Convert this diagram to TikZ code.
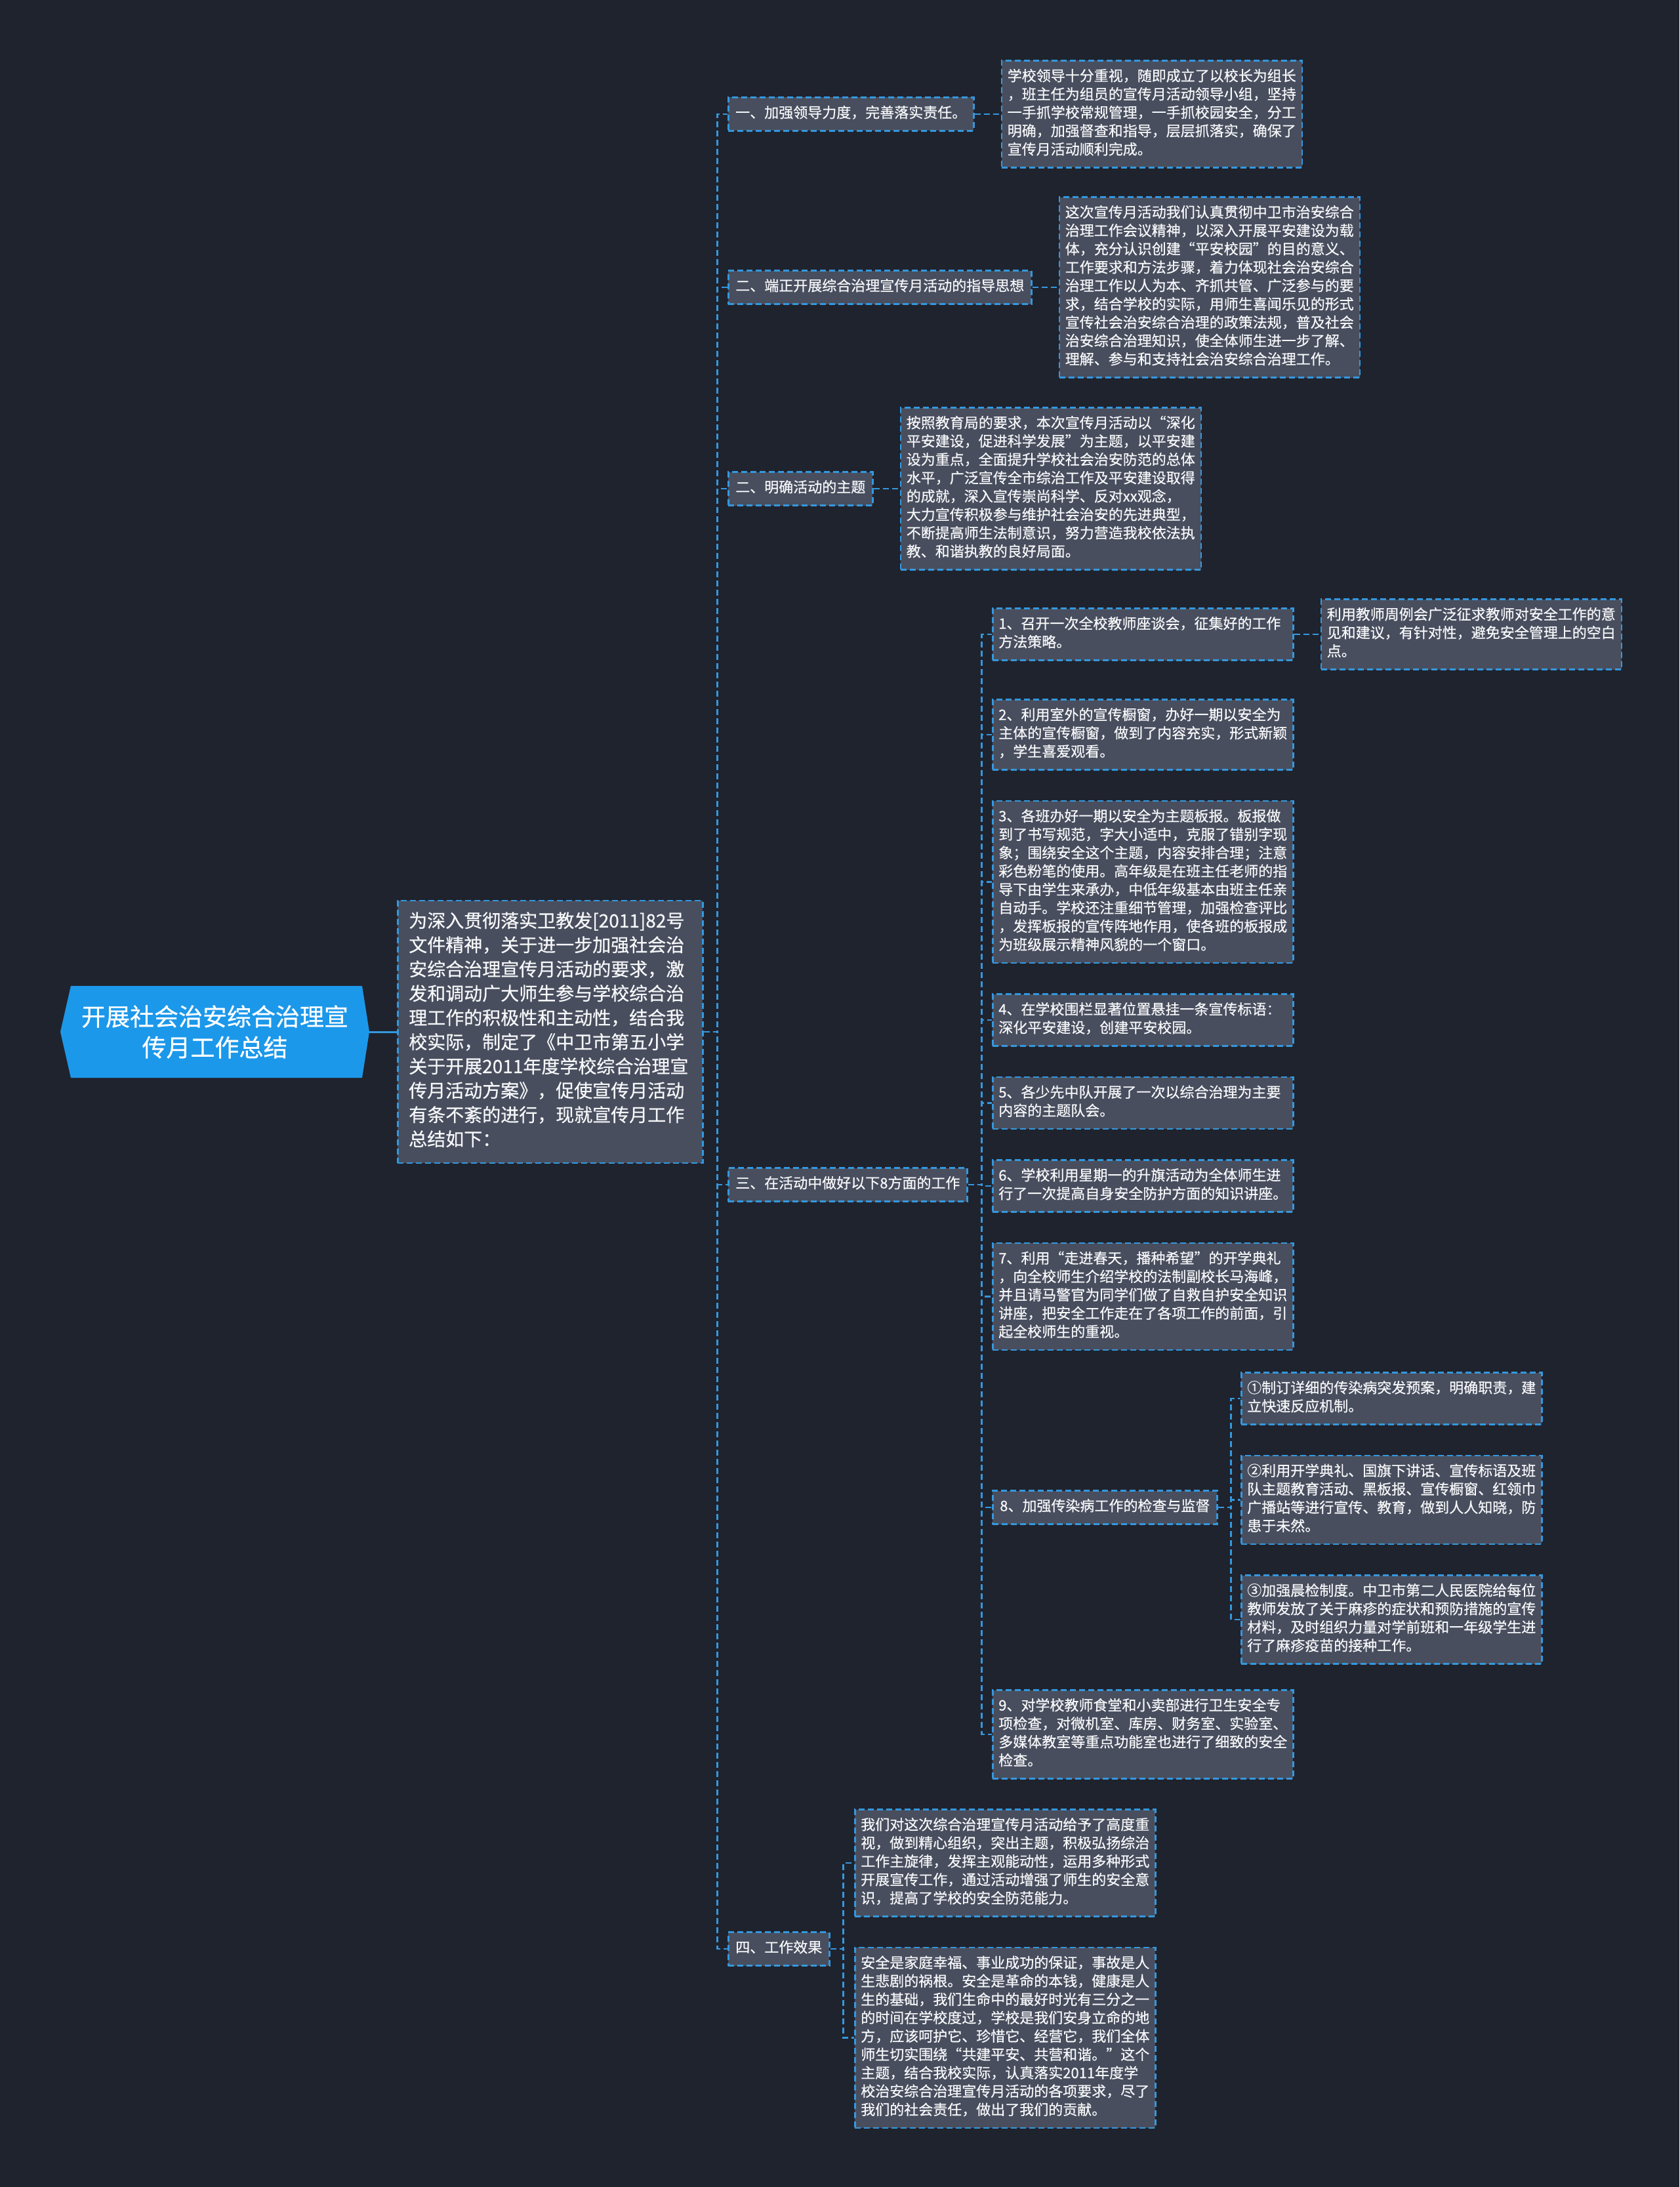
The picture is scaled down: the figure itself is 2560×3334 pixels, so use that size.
\documentclass[tikz,border=0pt]{standalone}
\usepackage{fontspec}
\setmainfont{Noto Sans CJK SC}[FakeBold=0.6]
\usepackage{xcolor}
\usepackage{tikz}
\usetikzlibrary{positioning, calc}
\definecolor{BgColor}{RGB}{31,35,46}
\definecolor{BoxColor}{RGB}{72,78,94}
\definecolor{LineColor}{RGB}{52,152,222}
\definecolor{RootColor}{RGB}{28,152,234}
\definecolor{TextColor}{RGB}{246,247,249}
\tikzset{
    box/.style={
        rectangle,
        draw=LineColor,
        line width=2.5pt,
        dash pattern=on 9pt off 5pt,
        fill=BoxColor,
        text=TextColor,
        inner xsep=11pt,
        inner ysep=11.5pt,
        font=\fontsize{22}{28}\selectfont,
        execute at begin node=\strut,
        execute at end node=\strut
    },
    branch/.style={box, anchor=west},
    leaf/.style={box, inner xsep=9pt, text width=440pt, align=left},
    intro/.style={box, inner xsep=17pt, inner ysep=15pt, text width=431pt, align=left, font=\fontsize{28}{37}\selectfont},
    topic/.style={text=white, align=center, inner sep=0pt, minimum width=471pt, font=\fontsize{37}{47}\selectfont},
    link/.style={draw=LineColor, line width=2.5pt, dash pattern=on 9pt off 5pt},
    rootlink/.style={draw=LineColor, line width=3pt}
}

\begin{document}
\begin{tikzpicture}[x=1pt, y=-1pt, node distance=45pt]

% Background
\fill[BgColor] (0,0) rectangle (2560,3334);
\useasboundingbox (0,0) rectangle (2560,3334);

% Root
\fill[RootColor] (92,1573) -- (108,1503) -- (552,1503) -- (563,1573) -- (552,1643) -- (108,1643) -- cycle
    (327.5,1573) node[topic] (n_root) {开展社会治安综合治理宣\\传月工作总结};

\node[intro, anchor=west] (n_intro) at (605,1573) {为深入贯彻落实卫教发[2011]82号\\文件精神，关于进一步加强社会治\\安综合治理宣传月活动的要求，激\\发和调动广大师生参与学校综合治\\理工作的积极性和主动性，结合我\\校实际，制定了《中卫市第五小学\\关于开展2011年度学校综合治理宣\\传月活动方案》，促使宣传月活动\\有条不紊的进行，现就宣传月工作\\总结如下：};

% Column 1
\node[branch] (n_lead) at (1109,174) {一、加强领导力度，完善落实责任。};
\node[leaf, right=40pt of n_lead] (n_lead_note) {学校领导十分重视，随即成立了以校长为组长\\，班主任为组员的宣传月活动领导小组，坚持\\一手抓学校常规管理，一手抓校园安全，分工\\明确，加强督查和指导，层层抓落实，确保了\\宣传月活动顺利完成。};

\node[branch] (n_idea) at (1109,438) {二、端正开展综合治理宣传月活动的指导思想};
\node[leaf, right=40pt of n_idea] (n_idea_note) {这次宣传月活动我们认真贯彻中卫市治安综合\\治理工作会议精神，以深入开展平安建设为载\\体，充分认识创建“平安校园”的目的意义、\\工作要求和方法步骤，着力体现社会治安综合\\治理工作以人为本、齐抓共管、广泛参与的要\\求，结合学校的实际，用师生喜闻乐见的形式\\宣传社会治安综合治理的政策法规，普及社会\\治安综合治理知识，使全体师生进一步了解、\\理解、参与和支持社会治安综合治理工作。};

\node[branch] (n_theme) at (1109,745) {二、明确活动的主题};
\node[leaf, right=40pt of n_theme] (n_theme_note) {按照教育局的要求，本次宣传月活动以“深化\\平安建设，促进科学发展”为主题，以平安建\\设为重点，全面提升学校社会治安防范的总体\\水平，广泛宣传全市综治工作及平安建设取得\\的成就，深入宣传崇尚科学、反对xx观念，\\大力宣传积极参与维护社会治安的先进典型，\\不断提高师生法制意识，努力营造我校依法执\\教、和谐执教的良好局面。};

\node[branch] (n_work) at (1109,1806) {三、在活动中做好以下8方面的工作};
\node[branch] (n_result) at (1109,2971) {四、工作效果};

% Column 2
\node[leaf, anchor=west] (n_w1) at (1512,967) {1、召开一次全校教师座谈会，征集好的工作\\方法策略。};
\node[leaf, right=40pt of n_w1] (n_w1_note) {利用教师周例会广泛征求教师对安全工作的意\\见和建议，有针对性，避免安全管理上的空白\\点。};
\node[leaf, anchor=west] (n_w2) at (1512,1120) {2、利用室外的宣传橱窗，办好一期以安全为\\主体的宣传橱窗，做到了内容充实，形式新颖\\，学生喜爱观看。};
\node[leaf, below=of n_w2] (n_w3) {3、各班办好一期以安全为主题板报。板报做\\到了书写规范，字大小适中，克服了错别字现\\象；围绕安全这个主题，内容安排合理；注意\\彩色粉笔的使用。高年级是在班主任老师的指\\导下由学生来承办，中低年级基本由班主任亲\\自动手。学校还注重细节管理，加强检查评比\\，发挥板报的宣传阵地作用，使各班的板报成\\为班级展示精神风貌的一个窗口。};
\node[leaf, below=of n_w3] (n_w4) {4、在学校围栏显著位置悬挂一条宣传标语：\\深化平安建设，创建平安校园。};
\node[leaf, below=of n_w4] (n_w5) {5、各少先中队开展了一次以综合治理为主要\\内容的主题队会。};
\node[leaf, below=of n_w5] (n_w6) {6、学校利用星期一的升旗活动为全体师生进\\行了一次提高自身安全防护方面的知识讲座。};
\node[leaf, below=of n_w6] (n_w7) {7、利用“走进春天，播种希望”的开学典礼\\，向全校师生介绍学校的法制副校长马海峰，\\并且请马警官为同学们做了自救自护安全知识\\讲座，把安全工作走在了各项工作的前面，引\\起全校师生的重视。};
\node[branch] (n_w8) at (1512,2298) {8、加强传染病工作的检查与监督};
\node[leaf, anchor=west] (n_w8_a) at (1891,2132) {①制订详细的传染病突发预案，明确职责，建\\立快速反应机制。};
\node[leaf, below=of n_w8_a] (n_w8_b) {②利用开学典礼、国旗下讲话、宣传标语及班\\队主题教育活动、黑板报、宣传橱窗、红领巾\\广播站等进行宣传、教育，做到人人知晓，防\\患于未然。};
\node[leaf, below=of n_w8_b] (n_w8_c) {③加强晨检制度。中卫市第二人民医院给每位\\教师发放了关于麻疹的症状和预防措施的宣传\\材料，及时组织力量对学前班和一年级学生进\\行了麻疹疫苗的接种工作。};
\node[leaf, anchor=west] (n_w9) at (1512,2644) {9、对学校教师食堂和小卖部进行卫生安全专\\项检查，对微机室、库房、财务室、实验室、\\多媒体教室等重点功能室也进行了细致的安全\\检查。};

\node[leaf, anchor=west] (n_result_a) at (1302,2840) {我们对这次综合治理宣传月活动给予了高度重\\视，做到精心组织，突出主题，积极弘扬综治\\工作主旋律，发挥主观能动性，运用多种形式\\开展宣传工作，通过活动增强了师生的安全意\\识，提高了学校的安全防范能力。};
\node[leaf, below=of n_result_a] (n_result_b) {安全是家庭幸福、事业成功的保证，事故是人\\生悲剧的祸根。安全是革命的本钱，健康是人\\生的基础，我们生命中的最好时光有三分之一\\的时间在学校度过，学校是我们安身立命的地\\方，应该呵护它、珍惜它、经营它，我们全体\\师生切实围绕“共建平安、共营和谐。”这个\\主题，结合我校实际，认真落实2011年度学\\校治安综合治理宣传月活动的各项要求，尽了\\我们的社会责任，做出了我们的贡献。};

% Connectors
\draw[rootlink] (n_root.east) -- (n_intro.west);
\foreach \b in {n_lead, n_idea, n_theme, n_work, n_result}
    \draw[link] (n_intro.east) -- ++(21,0) |- (\b.west);
\draw[link] (n_lead) -- (n_lead_note);
\draw[link] (n_idea) -- (n_idea_note);
\draw[link] (n_theme) -- (n_theme_note);
\foreach \w in {n_w1, n_w2, n_w3, n_w4, n_w5, n_w6, n_w7, n_w8, n_w9}
    \draw[link] (n_work.east) -- ++(21,0) |- (\w.west);
\draw[link] (n_w1) -- (n_w1_note);
\foreach \s in {n_w8_a, n_w8_b, n_w8_c}
    \draw[link] (n_w8.east) -- ++(20,0) |- (\s.west);
\foreach \r in {n_result_a, n_result_b}
    \draw[link] (n_result.east) -- ++(20,0) |- (\r.west);

\end{tikzpicture}
\end{document}
